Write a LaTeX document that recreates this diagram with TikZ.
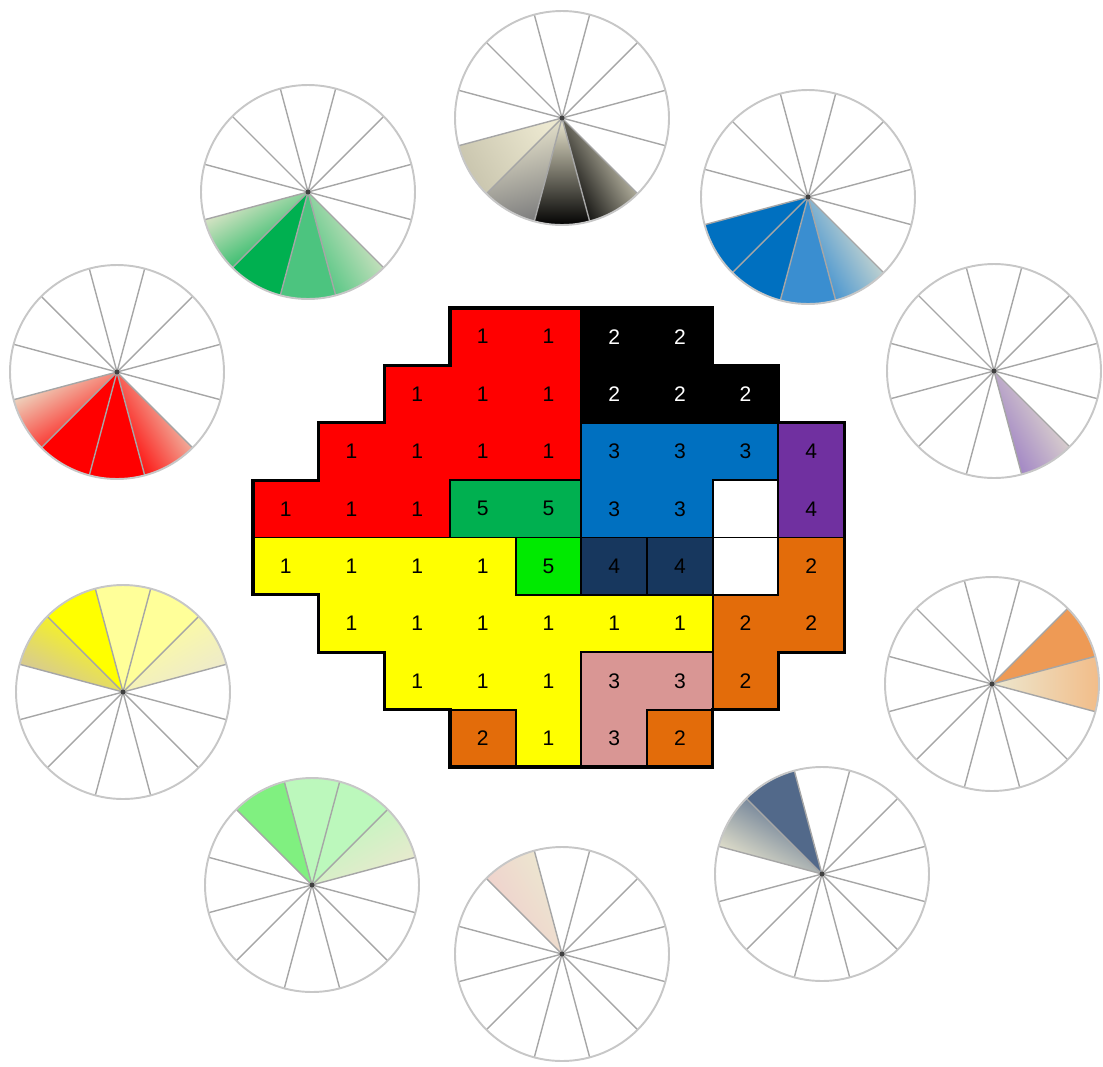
\documentclass[tikz,border=0pt]{standalone}
\usepackage{fontspec}
\setmainfont{Liberation Sans}

% couleurs de la grille
\definecolor{rouge}{HTML}{FF0000}
\definecolor{bleu}{HTML}{0070C0}
\definecolor{violet}{HTML}{7030A0}
\definecolor{vert}{HTML}{00B050}
\definecolor{vertvif}{HTML}{00EA00}
\definecolor{marine}{HTML}{17375E}
\definecolor{jaune}{HTML}{FFFF00}
\definecolor{orange}{HTML}{E36C0A}
\definecolor{rose}{HTML}{D99694}
% couleurs des roues
\definecolor{creme}{HTML}{ECE8D0}
\definecolor{gris}{HTML}{C9C5AE}
\definecolor{vertclair}{HTML}{4CC47F}
\definecolor{bleuclair}{HTML}{3A8ED0}
\definecolor{lilas}{HTML}{9B7DC4}
\definecolor{jaunepale}{HTML}{FFFF99}
\definecolor{ocre}{HTML}{D2C4A4}
\definecolor{orroue}{HTML}{EE9A55}
\definecolor{orpale}{HTML}{F2BC88}
\definecolor{vertfluo}{HTML}{80F080}
\definecolor{vertpale}{HTML}{BCF8BC}
\definecolor{roseroue}{HTML}{F0CCCC}
\definecolor{ardoise}{HTML}{52698A}

\tikzset{
  rim/.style={draw=black!22, line width=1.1pt},
  rayon/.style={draw=black!35, line width=0.8pt},
  bord/.style={draw=black, line width=1.1pt, line join=miter},
  contour/.style={draw=black, line width=1.8pt, line join=miter},
  chiffre/.style={inner sep=0pt, font=\fontsize{12}{14}\selectfont},
}

% secteur d'une roue : centre, angle de depart, angle de fin, options
\newcommand{\secteur}[4]{%
  \path[#4] (#1) -- ++(#2:107) arc[start angle=#2, end angle=#3, radius=107] -- cycle;
}

\begin{document}
\begin{tikzpicture}[x=0.02cm, y=0.02cm]
    \useasboundingbox (0,0) rectangle (1103,-1066);

    % Centres des roues
    \coordinate (rNoir) at (562,-118);
    \coordinate (rVert) at (308,-192);
    \coordinate (rBleu) at (808,-197);
    \coordinate (rRouge) at (117,-372);
    \coordinate (rViolet) at (994,-371);
    \coordinate (rJaune) at (123,-692);
    \coordinate (rOrange) at (992,-684);
    \coordinate (rVertClair) at (312,-885);
    \coordinate (rRose) at (562,-954);
    \coordinate (rMarine) at (822,-874);

    % Secteurs colores
    \secteur{rNoir}{195}{225}{shade, left color=creme, right color=gris, shading angle=300}
    \secteur{rNoir}{225}{255}{shade, left color=creme, right color=black!50, shading angle=15}
    \secteur{rNoir}{255}{285}{shade, left color=creme, right color=black, shading angle=0}
    \secteur{rNoir}{285}{315}{shade, left color=black, right color=creme, shading angle=120}

    \secteur{rVert}{195}{225}{shade, left color=creme, right color=vert, shading angle=30}
    \secteur{rVert}{225}{255}{fill=vert}
    \secteur{rVert}{255}{285}{fill=vertclair}
    \secteur{rVert}{285}{315}{shade, left color=vertclair, right color=creme, shading angle=120}

    \secteur{rBleu}{195}{225}{fill=bleu}
    \secteur{rBleu}{225}{255}{fill=bleu}
    \secteur{rBleu}{255}{285}{fill=bleuclair}
    \secteur{rBleu}{285}{315}{shade, left color=bleuclair, right color=creme, shading angle=120}

    \secteur{rRouge}{195}{225}{shade, left color=creme, right color=rouge, shading angle=30}
    \secteur{rRouge}{225}{255}{fill=rouge}
    \secteur{rRouge}{255}{285}{fill=rouge}
    \secteur{rRouge}{285}{315}{shade, left color=rouge, right color=creme, shading angle=120}

    \secteur{rViolet}{285}{315}{shade, left color=lilas, right color=creme, shading angle=120}

    \secteur{rJaune}{135}{165}{shade, left color=jaune, right color=ocre, shading angle=330}
    \secteur{rJaune}{105}{135}{fill=jaune}
    \secteur{rJaune}{75}{105}{fill=jaunepale}
    \secteur{rJaune}{45}{75}{fill=jaunepale}
    \secteur{rJaune}{15}{45}{shade, left color=creme, right color=jaunepale, shading angle=210}

    \secteur{rOrange}{15}{45}{fill=orroue}
    \secteur{rOrange}{-15}{15}{shade, left color=creme, right color=orpale, shading angle=90}

    \secteur{rVertClair}{105}{135}{fill=vertfluo}
    \secteur{rVertClair}{75}{105}{fill=vertpale}
    \secteur{rVertClair}{45}{75}{fill=vertpale}
    \secteur{rVertClair}{15}{45}{shade, left color=creme, right color=vertpale, shading angle=210}

    \secteur{rRose}{105}{135}{shade, left color=creme, right color=roseroue, shading angle=300}

    \secteur{rMarine}{105}{135}{fill=ardoise}
    \secteur{rMarine}{135}{165}{shade, left color=ardoise, right color=creme, shading angle=330}

    % Cercles et rayons
    \foreach \r in {rNoir,rVert,rBleu,rRouge,rViolet,rJaune,rOrange,rVertClair,rRose,rMarine} {
      \foreach \a in {15,45,...,345}
        \draw[rayon] (\r) -- ++(\a:107);
      \draw[rim] (\r) circle[radius=107];
      \fill[black!75] (\r) circle[radius=2.5];
    }

    % Grille
    \begin{scope}[shift={(5.06cm,-6.16cm)}, x=1.314cm, y=-1.148cm]
      \foreach \c/\l/\fond/\n/\t in {
          4/1/rouge/1/black, 5/1/rouge/1/black, 6/1/black/2/white, 7/1/black/2/white,
          3/2/rouge/1/black, 4/2/rouge/1/black, 5/2/rouge/1/black,
          6/2/black/2/white, 7/2/black/2/white, 8/2/black/2/white,
          2/3/rouge/1/black, 3/3/rouge/1/black, 4/3/rouge/1/black, 5/3/rouge/1/black,
          6/3/bleu/3/black, 7/3/bleu/3/black, 8/3/bleu/3/black, 9/3/violet/4/black,
          1/4/rouge/1/black, 2/4/rouge/1/black, 3/4/rouge/1/black,
          4/4/vert/5/black, 5/4/vert/5/black, 6/4/bleu/3/black, 7/4/bleu/3/black,
          9/4/violet/4/black,
          1/5/jaune/1/black, 2/5/jaune/1/black, 3/5/jaune/1/black, 4/5/jaune/1/black,
          5/5/vertvif/5/black, 6/5/marine/4/black, 7/5/marine/4/black, 9/5/orange/2/black,
          2/6/jaune/1/black, 3/6/jaune/1/black, 4/6/jaune/1/black, 5/6/jaune/1/black,
          6/6/jaune/1/black, 7/6/jaune/1/black, 8/6/orange/2/black, 9/6/orange/2/black,
          3/7/jaune/1/black, 4/7/jaune/1/black, 5/7/jaune/1/black,
          6/7/rose/3/black, 7/7/rose/3/black, 8/7/orange/2/black,
          4/8/orange/2/black, 5/8/jaune/1/black, 6/8/rose/3/black, 7/8/orange/2/black} {
        \fill[\fond] ({\c-1},{\l-1}) rectangle (\c,\l);
        \node[chiffre, text=\t] (c\c-\l) at ({\c-0.5},{\l-0.5}) {\n};
      }

      % Contours des zones
      \draw[bord] (3,0) -- (5,0) -- (5,3) -- (3,3) -- (3,4) -- (0,4) -- (0,3) -- (1,3)
        -- (1,2) -- (2,2) -- (2,1) -- (3,1) -- cycle;
      \draw[bord] (5,0) -- (7,0) -- (7,1) -- (8,1) -- (8,2) -- (5,2) -- cycle;
      \draw[bord] (5,2) -- (8,2) -- (8,3) -- (7,3) -- (7,4) -- (5,4) -- cycle;
      \draw[bord] (8,2) rectangle (9,4);
      \draw[bord] (3,3) rectangle (5,4);
      \draw[bord] (7,3) rectangle (8,4);
      \draw[bord] (7,4) rectangle (8,5);
      \draw[bord] (4,4) rectangle (5,5);
      \draw[bord] (5,4) rectangle (6,5);
      \draw[bord] (6,4) rectangle (7,5);
      \draw[bord] (0,4) -- (4,4) -- (4,5) -- (7,5) -- (7,6) -- (5,6) -- (5,8) -- (4,8)
        -- (4,7) -- (2,7) -- (2,6) -- (1,6) -- (1,5) -- (0,5) -- cycle;
      \draw[bord] (8,4) -- (9,4) -- (9,6) -- (8,6) -- (8,7) -- (7,7) -- (7,5) -- (8,5) -- cycle;
      \draw[bord] (5,6) -- (7,6) -- (7,7) -- (6,7) -- (6,8) -- (5,8) -- cycle;
      \draw[bord] (3,7) rectangle (4,8);
      \draw[bord] (6,7) rectangle (7,8);
      % contour exterieur
      \draw[contour] (3,0) -- (7,0) -- (7,1) -- (8,1) -- (8,2) -- (9,2) -- (9,6) -- (8,6)
        -- (8,7) -- (7,7) -- (7,8) -- (3,8) -- (3,7) -- (2,7) -- (2,6) -- (1,6) -- (1,5)
        -- (0,5) -- (0,3) -- (1,3) -- (1,2) -- (2,2) -- (2,1) -- (3,1) -- cycle;
    \end{scope}
\end{tikzpicture}
\end{document}
